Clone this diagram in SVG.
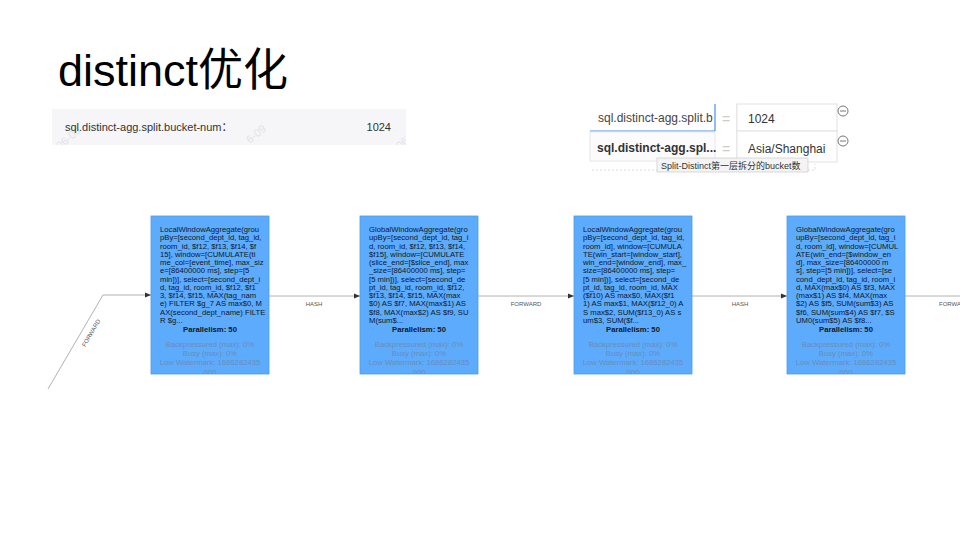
<svg xmlns="http://www.w3.org/2000/svg" width="960" height="540" viewBox="0 0 960 540">
<style>
.t{font-family:"Liberation Sans",Arial,"Noto Sans CJK SC",sans-serif}
.node rect.box{fill:#5cabfc;stroke:#4a9cf2;stroke-width:0.8}
.desc{font-size:7.7px;fill:#101828}
.par{font-size:7.7px;font-weight:bold;fill:#101828}
.met{font-size:7.7px;fill:#6c8cb8}
.edge{stroke:#a9a9a9;stroke-width:0.9;fill:none}
.elab{font-size:6px;fill:#555}
.cell{fill:#fff;stroke:#e2e2e2;stroke-width:1}
.wm{font-size:11px;fill:#e2e2e6}
</style>
<defs>
<marker id="arr" markerWidth="6" markerHeight="6" refX="6" refY="3" orient="auto" markerUnits="userSpaceOnUse">
<path d="M0,0.6 L6,3 L0,5.4 Z" fill="#333"/>
</marker>
<clipPath id="nclip"><rect x="0" y="0" width="118" height="158"/></clipPath>
<clipPath id="lbox"><rect x="52" y="109" width="354" height="36"/></clipPath>
<clipPath id="keyclip"><rect x="590" y="104" width="123" height="27"/></clipPath>
</defs>
<rect width="960" height="540" fill="#fff"/>

<text class="t" x="58" y="86" font-size="45" fill="#000">distinct<tspan font-family="'Noto Sans CJK SC',sans-serif">优化</tspan></text>

<g id="config-left">
<rect x="52" y="109" width="354" height="36" fill="#f6f6f8"/>
<g clip-path="url(#lbox)">
<text class="t wm" transform="translate(60,150) rotate(-40)">06-09</text>
<text class="t wm" transform="translate(250,144) rotate(-40)">6-09</text>
<text class="t wm" transform="translate(400,150) rotate(-40)">06</text>
</g>
<text class="t" x="65" y="131" font-size="11" fill="#333">sql.distinct-agg.split.bucket-num：</text>
<text class="t" x="391" y="131" font-size="11" fill="#333" text-anchor="end">1024</text>
</g>

<g id="config-right">
<rect x="590" y="104" width="125" height="27" fill="#fff"/>
<line x1="715" y1="104" x2="715" y2="131" stroke="#4a90e2" stroke-width="1.2"/>
<line x1="590" y1="131" x2="715" y2="131" stroke="#4a90e2" stroke-width="1.2"/>
<text class="t" x="598" y="122" font-size="12" fill="#444" clip-path="url(#keyclip)">sql.distinct-agg.split.bu</text>
<rect x="590" y="132" width="125" height="29" fill="#fbfbfb" stroke="#e6e6e6"/>
<text class="t" x="597" y="152" font-size="12" font-weight="bold" fill="#333">sql.distinct-agg.spl...</text>
<line x1="737" y1="104" x2="737" y2="162" stroke="#e2e2e2"/>
<text class="t" x="726" y="124" font-size="14" fill="#ccc" text-anchor="middle">=</text>
<text class="t" x="726" y="154" font-size="14" fill="#ccc" text-anchor="middle">=</text>
<rect class="cell" x="737" y="104" width="100" height="27"/>
<rect class="cell" x="737" y="131" width="100" height="31"/>
<text class="t" x="748" y="123" font-size="12" fill="#333">1024</text>
<text class="t" x="748" y="153" font-size="12" fill="#333">Asia/Shanghai</text>
<circle cx="843" cy="111" r="5" fill="none" stroke="#666" stroke-width="0.9"/>
<line x1="840" y1="111" x2="846" y2="111" stroke="#666" stroke-width="0.9"/>
<circle cx="843" cy="141" r="5" fill="none" stroke="#666" stroke-width="0.9"/>
<line x1="840" y1="141" x2="846" y2="141" stroke="#666" stroke-width="0.9"/>
<path d="M592,170 H815 V164" fill="none" stroke="#ddd" stroke-dasharray="2,2"/>
<rect x="657" y="158" width="151" height="14" fill="#f4f4f4" stroke="#cfcfcf" stroke-width="0.8"/>
<text class="t" x="661" y="168.5" font-size="9" fill="#333">Split-Distinct第一层拆分的bucket数</text>
</g>

<g id="connectors">
<path class="edge" d="M48,389 L103,295 H151" marker-end="url(#arr)"/>
<text class="t elab" text-anchor="middle" transform="translate(93,334) rotate(-59.7)">FORWARD</text>
<path class="edge" d="M269,296 H360" marker-end="url(#arr)"/>
<text class="t elab" x="314" y="306" text-anchor="middle">HASH</text>
<path class="edge" d="M478,296 H574" marker-end="url(#arr)"/>
<text class="t elab" x="526" y="306" text-anchor="middle">FORWARD</text>
<path class="edge" d="M692,296 H787" marker-end="url(#arr)"/>
<text class="t elab" x="740" y="306" text-anchor="middle">HASH</text>
<path class="edge" d="M905,296 H960"/>
<text class="t elab" x="939" y="306">FORWARD</text>
</g>

<g id="node1" class="node" transform="translate(151,216)">
<rect class="box" x="0" y="0" width="118" height="158"/>
<g clip-path="url(#nclip)">
<text class="t desc" x="9" y="16"><tspan x="9">LocalWindowAggregate(grou</tspan><tspan x="9" dy="8.27">pBy=[second_dept_id, tag_id,</tspan><tspan x="9" dy="8.27">room_id, $f12, $f13, $f14, $f</tspan><tspan x="9" dy="8.27">15], window=[CUMULATE(ti</tspan><tspan x="9" dy="8.27">me_col=[event_time], max_siz</tspan><tspan x="9" dy="8.27">e=[86400000 ms], step=[5</tspan><tspan x="9" dy="8.27">min])], select=[second_dept_i</tspan><tspan x="9" dy="8.27">d, tag_id, room_id, $f12, $f1</tspan><tspan x="9" dy="8.27">3, $f14, $f15, MAX(tag_nam</tspan><tspan x="9" dy="8.27">e) FILTER $g_7 AS max$0, M</tspan><tspan x="9" dy="8.27">AX(second_dept_name) FILTE</tspan><tspan x="9" dy="8.27">R $g...</tspan></text>
<text class="t par" x="59" y="116" text-anchor="middle">Parallelism: 50</text>
<text class="t met" x="59" y="131" text-anchor="middle">Backpressured (max): 0%</text>
<text class="t met" x="59" y="140" text-anchor="middle">Busy (max): 0%</text>
<text class="t met" x="59" y="149" text-anchor="middle">Low Watermark: 1686282435</text>
<text class="t met" x="59" y="159" text-anchor="middle">000</text>
</g>
</g>

<g id="node2" class="node" transform="translate(360,216)">
<rect class="box" x="0" y="0" width="118" height="158"/>
<g clip-path="url(#nclip)">
<text class="t desc" x="9" y="16"><tspan x="9">GlobalWindowAggregate(gro</tspan><tspan x="9" dy="8.27">upBy=[second_dept_id, tag_i</tspan><tspan x="9" dy="8.27">d, room_id, $f12, $f13, $f14,</tspan><tspan x="9" dy="8.27">$f15], window=[CUMULATE</tspan><tspan x="9" dy="8.27">(slice_end=[$slice_end], max</tspan><tspan x="9" dy="8.27">_size=[86400000 ms], step=</tspan><tspan x="9" dy="8.27">[5 min])], select=[second_de</tspan><tspan x="9" dy="8.27">pt_id, tag_id, room_id, $f12,</tspan><tspan x="9" dy="8.27">$f13, $f14, $f15, MAX(max</tspan><tspan x="9" dy="8.27">$0) AS $f7, MAX(max$1) AS</tspan><tspan x="9" dy="8.27">$f8, MAX(max$2) AS $f9, SU</tspan><tspan x="9" dy="8.27">M(sum$...</tspan></text>
<text class="t par" x="59" y="116" text-anchor="middle">Parallelism: 50</text>
<text class="t met" x="59" y="131" text-anchor="middle">Backpressured (max): 0%</text>
<text class="t met" x="59" y="140" text-anchor="middle">Busy (max): 0%</text>
<text class="t met" x="59" y="149" text-anchor="middle">Low Watermark: 1686282435</text>
<text class="t met" x="59" y="159" text-anchor="middle">000</text>
</g>
</g>

<g id="node3" class="node" transform="translate(574,216)">
<rect class="box" x="0" y="0" width="118" height="158"/>
<g clip-path="url(#nclip)">
<text class="t desc" x="9" y="16"><tspan x="9">LocalWindowAggregate(grou</tspan><tspan x="9" dy="8.27">pBy=[second_dept_id, tag_id,</tspan><tspan x="9" dy="8.27">room_id], window=[CUMULA</tspan><tspan x="9" dy="8.27">TE(win_start=[window_start],</tspan><tspan x="9" dy="8.27">win_end=[window_end], max_</tspan><tspan x="9" dy="8.27">size=[86400000 ms], step=</tspan><tspan x="9" dy="8.27">[5 min])], select=[second_de</tspan><tspan x="9" dy="8.27">pt_id, tag_id, room_id, MAX</tspan><tspan x="9" dy="8.27">($f10) AS max$0, MAX($f1</tspan><tspan x="9" dy="8.27">1) AS max$1, MAX($f12_0) A</tspan><tspan x="9" dy="8.27">S max$2, SUM($f13_0) AS s</tspan><tspan x="9" dy="8.27">um$3, SUM($f...</tspan></text>
<text class="t par" x="59" y="116" text-anchor="middle">Parallelism: 50</text>
<text class="t met" x="59" y="131" text-anchor="middle">Backpressured (max): 0%</text>
<text class="t met" x="59" y="140" text-anchor="middle">Busy (max): 0%</text>
<text class="t met" x="59" y="149" text-anchor="middle">Low Watermark: 1686282435</text>
<text class="t met" x="59" y="159" text-anchor="middle">000</text>
</g>
</g>

<g id="node4" class="node" transform="translate(787,216)">
<rect class="box" x="0" y="0" width="118" height="158"/>
<g clip-path="url(#nclip)">
<text class="t desc" x="9" y="16"><tspan x="9">GlobalWindowAggregate(gro</tspan><tspan x="9" dy="8.27">upBy=[second_dept_id, tag_i</tspan><tspan x="9" dy="8.27">d, room_id], window=[CUMUL</tspan><tspan x="9" dy="8.27">ATE(win_end=[$window_en</tspan><tspan x="9" dy="8.27">d], max_size=[86400000 m</tspan><tspan x="9" dy="8.27">s], step=[5 min])], select=[se</tspan><tspan x="9" dy="8.27">cond_dept_id, tag_id, room_i</tspan><tspan x="9" dy="8.27">d, MAX(max$0) AS $f3, MAX</tspan><tspan x="9" dy="8.27">(max$1) AS $f4, MAX(max</tspan><tspan x="9" dy="8.27">$2) AS $f5, SUM(sum$3) AS</tspan><tspan x="9" dy="8.27">$f6, SUM(sum$4) AS $f7, $S</tspan><tspan x="9" dy="8.27">UM0(sum$5) AS $f8...</tspan></text>
<text class="t par" x="59" y="116" text-anchor="middle">Parallelism: 50</text>
<text class="t met" x="59" y="131" text-anchor="middle">Backpressured (max): 0%</text>
<text class="t met" x="59" y="140" text-anchor="middle">Busy (max): 0%</text>
<text class="t met" x="59" y="149" text-anchor="middle">Low Watermark: 1686282435</text>
<text class="t met" x="59" y="159" text-anchor="middle">000</text>
</g>
</g>
</svg>
